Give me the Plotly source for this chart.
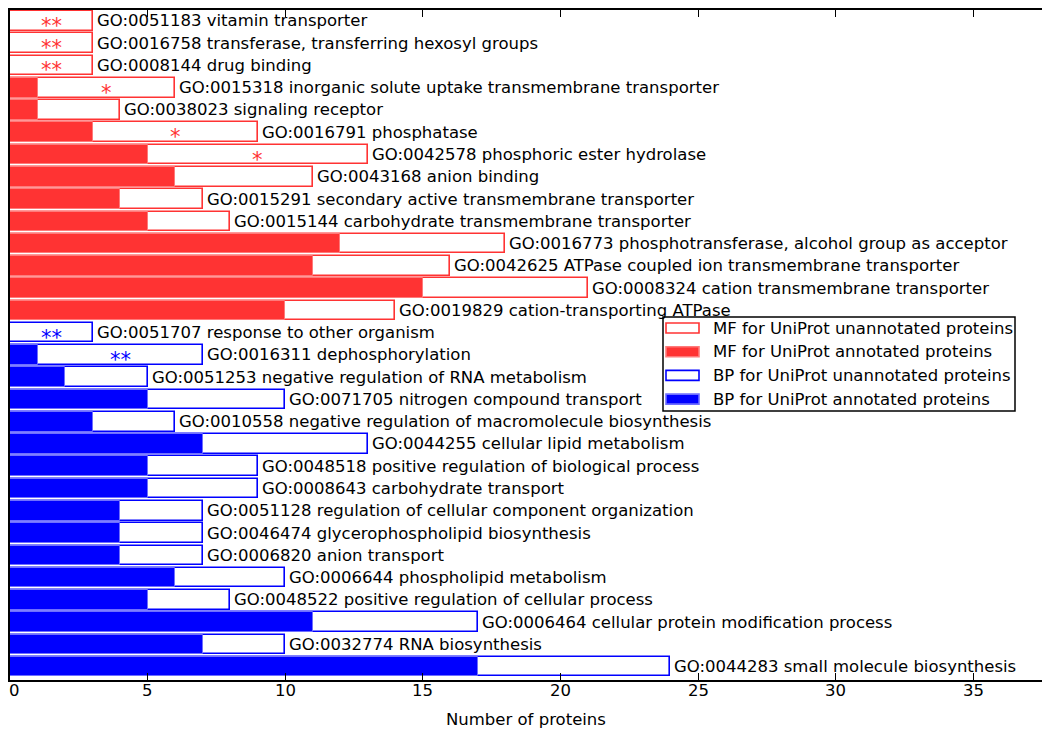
import plotly.graph_objects as go

mf_terms = [
    "GO:0051183 vitamin transporter",
    "GO:0016758 transferase, transferring hexosyl groups",
    "GO:0008144 drug binding",
    "GO:0015318 inorganic solute uptake transmembrane transporter",
    "GO:0038023 signaling receptor",
    "GO:0016791 phosphatase",
    "GO:0042578 phosphoric ester hydrolase",
    "GO:0043168 anion binding",
    "GO:0015291 secondary active transmembrane transporter",
    "GO:0015144 carbohydrate transmembrane transporter",
    "GO:0016773 phosphotransferase, alcohol group as acceptor",
    "GO:0042625 ATPase coupled ion transmembrane transporter",
    "GO:0008324 cation transmembrane transporter",
    "GO:0019829 cation-transporting ATPase",
]
mf_annotated = [0, 0, 0, 1, 1, 3, 5, 6, 4, 5, 12, 11, 15, 10]
mf_unannotated = [3, 3, 3, 6, 4, 9, 13, 11, 7, 8, 18, 16, 21, 14]
mf_stars = ["**", "**", "**", "*", "", "*", "*", "", "", "", "", "", "", ""]

bp_terms = [
    "GO:0051707 response to other organism",
    "GO:0016311 dephosphorylation",
    "GO:0051253 negative regulation of RNA metabolism",
    "GO:0071705 nitrogen compound transport",
    "GO:0010558 negative regulation of macromolecule biosynthesis",
    "GO:0044255 cellular lipid metabolism",
    "GO:0048518 positive regulation of biological process",
    "GO:0008643 carbohydrate transport",
    "GO:0051128 regulation of cellular component organization",
    "GO:0046474 glycerophospholipid biosynthesis",
    "GO:0006820 anion transport",
    "GO:0006644 phospholipid metabolism",
    "GO:0048522 positive regulation of cellular process",
    "GO:0006464 cellular protein modification process",
    "GO:0032774 RNA biosynthesis",
    "GO:0044283 small molecule biosynthesis",
]
bp_annotated = [0, 1, 2, 5, 3, 7, 5, 5, 4, 4, 4, 6, 5, 11, 7, 17]
bp_unannotated = [3, 7, 5, 10, 6, 13, 9, 9, 7, 7, 7, 10, 8, 17, 10, 24]
bp_stars = ["**", "**", "", "", "", "", "", "", "", "", "", "", "", "", "", ""]

x_ticks = [0, 5, 10, 15, 20, 25, 30, 35]

legend_labels = [
    "MF for UniProt unannotated proteins",
    "MF for UniProt annotated proteins",
    "BP for UniProt unannotated proteins",
    "BP for UniProt annotated proteins",
]

RED = "#ff3333"
RED_EDGE = "#ff7a7a"
BLUE = "#0000ff"
BLUE_EDGE = "#6f6fff"
FONT = "DejaVu Sans"
FS = 16.5
BW = 0.88

mf_y = list(range(len(mf_terms)))
bp_y = list(range(len(mf_terms), len(mf_terms) + len(bp_terms)))

fig = go.Figure()
annotations = []

def add_group(ys, terms, ann, unann, stars, col, edge):
    fig.add_trace(go.Bar(x=unann, y=ys, orientation="h", width=BW,
                         marker=dict(color="white", line=dict(color=col, width=1.6)),
                         showlegend=False, hoverinfo="skip"))
    fig.add_trace(go.Bar(x=ann, y=ys, orientation="h", width=BW,
                         marker=dict(color=col, line=dict(color=edge, width=1)),
                         showlegend=False, hoverinfo="skip"))
    for y, t, a, u, s in zip(ys, terms, ann, unann, stars):
        annotations.append(dict(x=u, y=y, xref="x", yref="y", text=t, showarrow=False,
                                xanchor="left", yanchor="middle", xshift=2,
                                font=dict(family=FONT, size=FS, color="black")))
        if s:
            annotations.append(dict(x=(a + u) / 2, y=y, xref="x", yref="y", text=s,
                                    showarrow=False, xanchor="center", yanchor="middle",
                                    yshift=-5, font=dict(family=FONT, size=21, color=col)))

add_group(mf_y, mf_terms, mf_annotated, mf_unannotated, mf_stars, RED, RED_EDGE)
add_group(bp_y, bp_terms, bp_annotated, bp_unannotated, bp_stars, BLUE, BLUE_EDGE)

# page body has an 8px margin; layout below is in screen pixels
OFF = 8
W, H = 1050 - OFF, 739 - OFF
ml, mr, mt, mb = 10 - OFF, W + OFF - 1042, 10 - OFF, H + OFF - 680
pw, ph = W - ml - mr, H - mt - mb
def px(x):
    return (x - OFF - ml) / pw
def py(y):
    return 1 - (y - OFF - mt) / ph

shapes = []
shapes.append(dict(type="rect", xref="paper", yref="paper",
                   x0=px(663), x1=px(1015), y0=py(411), y1=py(317),
                   line=dict(color="black", width=1.5), fillcolor="white", layer="above"))
legend_styles = [("white", RED), (RED, RED_EDGE), ("white", BLUE), (BLUE, BLUE_EDGE)]
for i, (lab, (fc, lc)) in enumerate(zip(legend_labels, legend_styles)):
    yc = 328 + i * 23.7
    shapes.append(dict(type="rect", xref="paper", yref="paper",
                       x0=px(666), x1=px(699), y0=py(yc + 5), y1=py(yc - 5),
                       line=dict(color=lc, width=1.6), fillcolor=fc, layer="above"))
    annotations.append(dict(xref="paper", yref="paper", x=px(711), y=py(yc),
                            text=lab, showarrow=False, xanchor="left", yanchor="middle",
                            font=dict(family=FONT, size=FS, color="black")))

# x tick labels drawn as annotations on the x scale (the "0" sits at the page edge)
for t in x_ticks:
    first = (t == x_ticks[0])
    annotations.append(dict(x=t, y=py(691), xref="x", yref="paper", text=str(t),
                            showarrow=False, xanchor="left" if first else "center",
                            yanchor="middle", xshift=-2 if first else 0,
                            borderpad=0,
                            font=dict(family=FONT, size=FS, color="black")))
annotations.append(dict(x=0.5, y=py(719), xref="paper", yref="paper",
                        text="Number of proteins", showarrow=False,
                        xanchor="center", yanchor="middle",
                        font=dict(family=FONT, size=FS, color="black")))

fig.update_layout(
    width=W, height=H,
    margin=dict(l=ml, r=mr, t=mt, b=mb),
    barmode="overlay",
    bargap=0,
    plot_bgcolor="white", paper_bgcolor="white",
    font=dict(family=FONT, size=FS, color="black"),
    shapes=shapes, annotations=annotations,
    xaxis=dict(range=[0, 37.5], tickvals=x_ticks, showticklabels=False,
               ticks="inside", ticklen=7, tickcolor="black", tickwidth=1,
               showline=True, linecolor="black", linewidth=1.5, mirror="ticks",
               showgrid=False, zeroline=False, automargin=False),
    yaxis=dict(range=[29.6, -0.49], showticklabels=False, ticks="",
               showline=True, linecolor="black", linewidth=1.5, mirror=True,
               showgrid=False, zeroline=False, automargin=False),
)

fig.write_html("out.html")
